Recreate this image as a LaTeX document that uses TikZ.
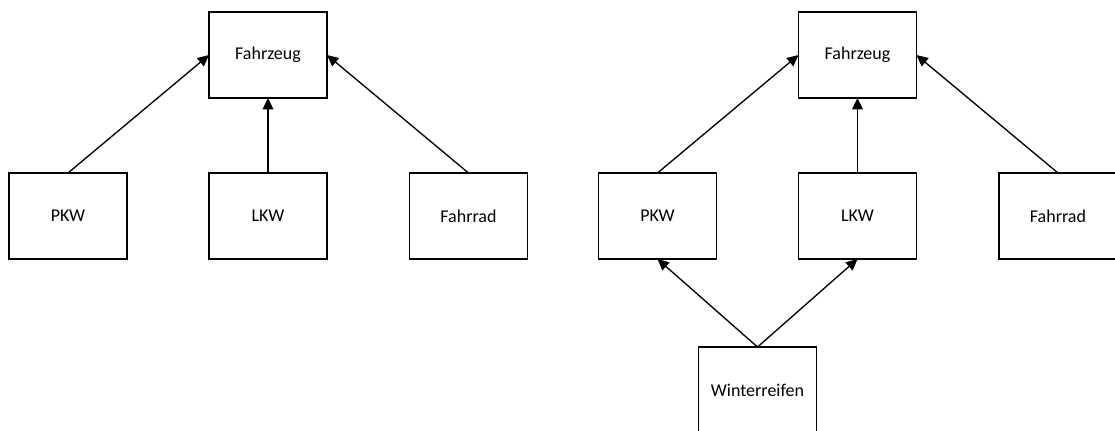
\documentclass[tikz,border=0pt]{standalone}
\usepackage{fontspec}
\setmainfont{Carlito}
\usetikzlibrary{arrows.meta}
\begin{document}
\begin{tikzpicture}[x=0.75pt,y=-0.75pt,
  box/.style={draw,line width=1pt,rectangle,minimum width=88.5pt,minimum height=64.5pt,inner sep=0pt,outer sep=0pt,font=\fontsize{13.5}{16}\selectfont},
  arr/.style={line width=1pt,-{Triangle[length=8.5pt,width=8pt]}}]
\useasboundingbox (0,0) rectangle (1115,430);
\clip (0,0) rectangle (1115,430);
\node[box] (fz1) at (268,55) {Fahrzeug};
\node[box] (pkw1) at (68,216) {PKW};
\node[box] (lkw1) at (268,216) {LKW};
\node[box] (fr1) at (468.5,216) {Fahrrad};
\draw[arr] (pkw1.north) -- (fz1.west);
\draw[arr] (lkw1.north) -- (fz1.south);
\draw[arr] (fr1.north) -- (fz1.east);
\node[box] (fz2) at (857.5,55) {Fahrzeug};
\node[box] (pkw2) at (657.5,216) {PKW};
\node[box] (lkw2) at (857.5,216) {LKW};
\node[box] (fr2) at (1058,216) {Fahrrad};
\node[box] (wr) at (757.5,390) {Winterreifen};
\draw[arr] (pkw2.north) -- (fz2.west);
\draw[arr] (lkw2.north) -- (fz2.south);
\draw[arr] (fr2.north) -- (fz2.east);
\draw[arr] (wr.north) -- (pkw2.south);
\draw[arr] (wr.north) -- (lkw2.south);
\end{tikzpicture}
\end{document}
